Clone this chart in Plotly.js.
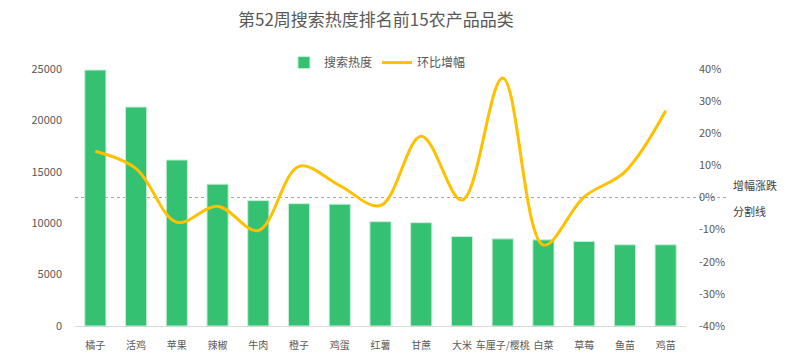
<!DOCTYPE html>
<html><head><meta charset="utf-8">
<script src="https://cdn.plot.ly/plotly-3.0.1.min.js"></script>
<style>html,body{margin:0;padding:0;background:#fff}#c{width:798px;height:360px}</style>
</head><body><div id="c"></div>
<script>
const categories = ['橘子','活鸡','苹果','辣椒','牛肉','橙子','鸡蛋','红薯','甘蔗','大米','车厘子/樱桃','白菜','草莓','鱼苗','鸡苗'];
const searchHeat = [24900, 21300, 16150, 13800, 12200, 11900, 11850, 10150, 10050, 8700, 8480, 8380, 8230, 7900, 7900];
const momGrowth = [0.144, 0.09, -0.077, -0.027, -0.103, 0.097, 0.037, -0.025, 0.191, -0.008, 0.372, -0.148, 0.002, 0.08, 0.27];
const rightTickVals = [-0.4,-0.3,-0.2,-0.1,0,0.1,0.2,0.3,0.4];
const rightTickText = ['-40%','-30%','-20%','-10%','0%','10%','20%','30%','40%'];
const leftTickVals = [0,5000,10000,15000,20000,25000];
const leftTickText = ['0','5000','10000','15000','20000','25000'];

const FONT = '"Noto Sans CJK SC", "Noto Sans", sans-serif';
const data = [
  {type:'bar', name:'搜索热度', x:categories, y:searchHeat,
   marker:{color:'#35c172', line:{color:'#c9eed8', width:1}}, width:0.52},
  {type:'scatter', mode:'lines', name:'环比增幅', x:categories, y:momGrowth, yaxis:'y2',
   line:{color:'#ffc000', width:3, shape:'spline', smoothing:1}}
];
const layout = {
  width:798, height:360,
  margin:{l:75, r:112, t:69, b:34},
  paper_bgcolor:'#fff', plot_bgcolor:'#fff',
  font:{family:FONT, color:'#595959', size:11},
  title:{text:'第52周搜索热度排名前15农产品品类', x:0.471, xanchor:'center', y:0.943, yanchor:'middle',
         font:{family:FONT, size:17, color:'#595959'}},
  showlegend:true,
  legend:{orientation:'h', x:0.495, xanchor:'center', y:1.025, yanchor:'middle',
          font:{family:FONT, size:12, color:'#595959'}, traceorder:'normal', bgcolor:'rgba(0,0,0,0)'},
  xaxis:{type:'category', showgrid:false, showline:true, linecolor:'#d9d9d9', linewidth:1, tickangle:0,
         ticks:'', tickfont:{family:FONT, size:10, color:'#595959'}, ticklabelstandoff:10, zeroline:false},
  yaxis:{range:[0,25000], tickvals:leftTickVals, ticktext:leftTickText, showgrid:false, zeroline:false, showline:false,
         ticks:'', tickfont:{family:FONT, size:11, color:'#595959'}, ticklabelstandoff:12},
  yaxis2:{overlaying:'y', side:'right', range:[-0.4,0.4], tickvals:rightTickVals, ticktext:rightTickText,
          showgrid:false, zeroline:false, showline:false, ticks:'',
          tickfont:{family:FONT, size:11, color:'#595959'}, ticklabelstandoff:12},
  shapes:[{type:'line', xref:'paper', yref:'y2', x0:0, x1:1.069, y0:0, y1:0,
           line:{color:'#a6a6a6', width:1, dash:'dot'}, layer:'below'}],
  annotations:[
    {xref:'paper', yref:'y2', x:1.074, y:0, xanchor:'left', yanchor:'bottom', yshift:3, showarrow:false, align:'left',
     text:'增幅涨跌', font:{family:FONT, size:11, color:'#404040'}},
    {xref:'paper', yref:'y2', x:1.074, y:0, xanchor:'left', yanchor:'top', yshift:-3, showarrow:false, align:'left',
     text:'分割线', font:{family:FONT, size:11, color:'#404040'}}
  ]
};
Plotly.newPlot('c', data, layout, {displayModeBar:false, staticPlot:true});
</script></body></html>
